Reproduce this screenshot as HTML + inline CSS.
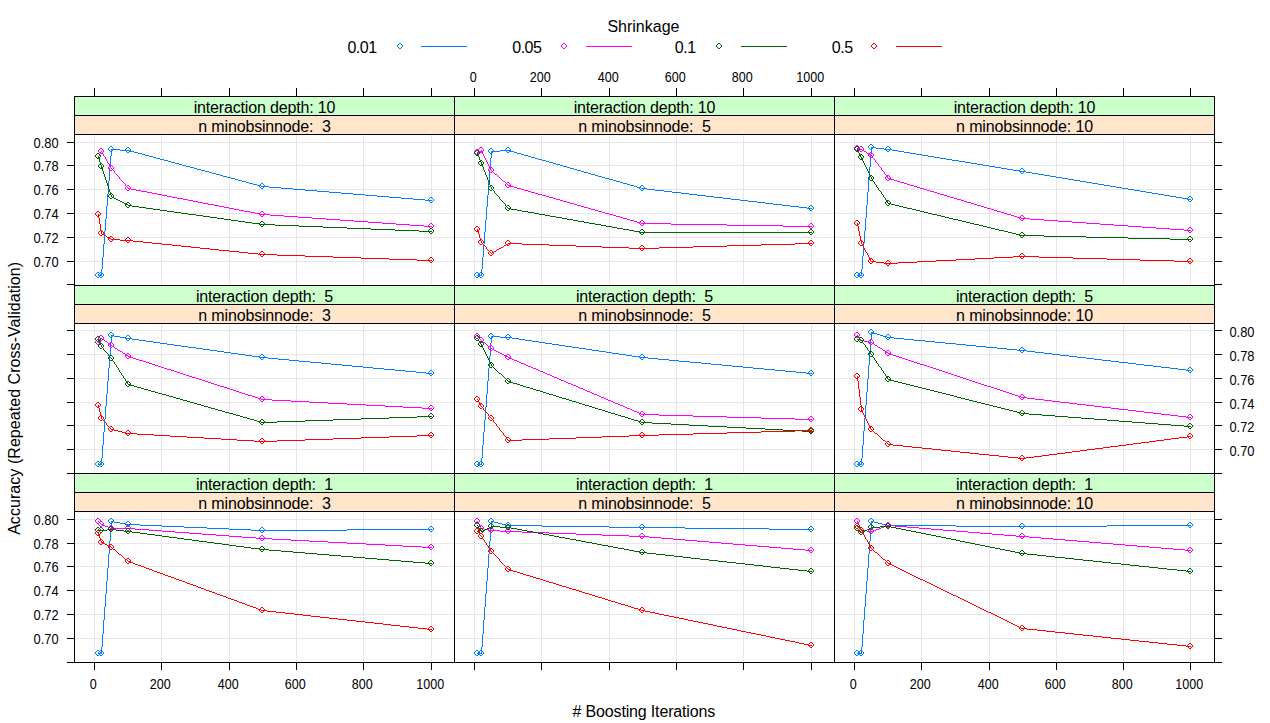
<!DOCTYPE html>
<html><head><meta charset="utf-8"><title>plot</title>
<style>
html,body{margin:0;padding:0;background:#fff;}
svg{display:block;font-family:"Liberation Sans",sans-serif;fill:#000;}
.ax{font-size:13.8px;}
.t{font-size:16px;}
.s{font-size:16px;letter-spacing:-0.16px;}
.k{stroke:#000;stroke-width:1;fill:none;shape-rendering:crispEdges;}
.gr{stroke:#e6e6e6;stroke-width:1;fill:none;shape-rendering:crispEdges;}
.ln{fill:none;stroke-width:1;shape-rendering:crispEdges;}
.c{shape-rendering:crispEdges;stroke:none;}
</style></head><body>
<svg width="1270" height="723" viewBox="0 0 1270 723">
<defs><path id="o" d="M-1-3h2v1h-2zM-2-2h1v1h-1zM1-2h1v1h-1zM-3-1h1v2h-1zM2-1h1v2h-1zM-2 1h1v1h-1zM1 1h1v1h-1zM-1 2h2v1h-2z"/></defs>
<rect x="0" y="0" width="1270" height="723" fill="#fff"/>
<text class="t" x="643.4" y="31.6" text-anchor="middle">Shrinkage</text>
<text class="t" x="376.6" y="53.1" text-anchor="end" style="letter-spacing:-0.5px">0.01</text>
<use class="c" href="#o" x="400" y="46" fill="#0080ff"/>
<line x1="421" y1="46.5" x2="467" y2="46.5" stroke="#0080ff" stroke-width="1" shape-rendering="crispEdges"/>
<text class="t" x="541.4" y="53.1" text-anchor="end" style="letter-spacing:-0.5px">0.05</text>
<use class="c" href="#o" x="564" y="46" fill="#ff00ff"/>
<line x1="586" y1="46.5" x2="632" y2="46.5" stroke="#ff00ff" stroke-width="1" shape-rendering="crispEdges"/>
<text class="t" x="695.6" y="53.1" text-anchor="end" style="letter-spacing:-0.5px">0.1</text>
<use class="c" href="#o" x="719" y="46" fill="#006400"/>
<line x1="741" y1="46.5" x2="787" y2="46.5" stroke="#006400" stroke-width="1" shape-rendering="crispEdges"/>
<text class="t" x="852.6" y="53.1" text-anchor="end" style="letter-spacing:-0.5px">0.5</text>
<use class="c" href="#o" x="874" y="46" fill="#ff0000"/>
<line x1="896" y1="46.5" x2="942" y2="46.5" stroke="#ff0000" stroke-width="1" shape-rendering="crispEdges"/>
<rect x="74.5" y="96.5" width="1140.0" height="19.0" fill="#ccffcc"/>
<rect x="74.5" y="115.5" width="1140.0" height="19.0" fill="#ffe5cc"/>
<rect x="74.5" y="285.5" width="1140.0" height="19.0" fill="#ccffcc"/>
<rect x="74.5" y="304.5" width="1140.0" height="19.0" fill="#ffe5cc"/>
<rect x="74.5" y="473.5" width="1140.0" height="19.0" fill="#ccffcc"/>
<rect x="74.5" y="492.5" width="1140.0" height="19.0" fill="#ffe5cc"/>
<path class="gr" d="M74.5 142.5H454.5M74.5 165.5H454.5M74.5 189.5H454.5M74.5 213.5H454.5M74.5 237.5H454.5M74.5 261.5H454.5M94.5 134.5V285.5M161.5 134.5V285.5M229.5 134.5V285.5M296.5 134.5V285.5M363.5 134.5V285.5M431.5 134.5V285.5"/>
<path class="gr" d="M454.5 142.5H834.5M454.5 165.5H834.5M454.5 189.5H834.5M454.5 213.5H834.5M454.5 237.5H834.5M454.5 261.5H834.5M474.5 134.5V285.5M541.5 134.5V285.5M609.5 134.5V285.5M676.5 134.5V285.5M743.5 134.5V285.5M811.5 134.5V285.5"/>
<path class="gr" d="M834.5 142.5H1214.5M834.5 165.5H1214.5M834.5 189.5H1214.5M834.5 213.5H1214.5M834.5 237.5H1214.5M834.5 261.5H1214.5M854.5 134.5V285.5M921.5 134.5V285.5M989.5 134.5V285.5M1056.5 134.5V285.5M1123.5 134.5V285.5M1190.5 134.5V285.5"/>
<path class="gr" d="M74.5 330.5H454.5M74.5 354.5H454.5M74.5 378.5H454.5M74.5 402.5H454.5M74.5 425.5H454.5M74.5 449.5H454.5M94.5 323.5V473.5M161.5 323.5V473.5M229.5 323.5V473.5M296.5 323.5V473.5M363.5 323.5V473.5M431.5 323.5V473.5"/>
<path class="gr" d="M454.5 330.5H834.5M454.5 354.5H834.5M454.5 378.5H834.5M454.5 402.5H834.5M454.5 425.5H834.5M454.5 449.5H834.5M474.5 323.5V473.5M541.5 323.5V473.5M609.5 323.5V473.5M676.5 323.5V473.5M743.5 323.5V473.5M811.5 323.5V473.5"/>
<path class="gr" d="M834.5 330.5H1214.5M834.5 354.5H1214.5M834.5 378.5H1214.5M834.5 402.5H1214.5M834.5 425.5H1214.5M834.5 449.5H1214.5M854.5 323.5V473.5M921.5 323.5V473.5M989.5 323.5V473.5M1056.5 323.5V473.5M1123.5 323.5V473.5M1190.5 323.5V473.5"/>
<path class="gr" d="M74.5 519.5H454.5M74.5 543.5H454.5M74.5 566.5H454.5M74.5 590.5H454.5M74.5 614.5H454.5M74.5 638.5H454.5M94.5 511.5V662.5M161.5 511.5V662.5M229.5 511.5V662.5M296.5 511.5V662.5M363.5 511.5V662.5M431.5 511.5V662.5"/>
<path class="gr" d="M454.5 519.5H834.5M454.5 543.5H834.5M454.5 566.5H834.5M454.5 590.5H834.5M454.5 614.5H834.5M454.5 638.5H834.5M474.5 511.5V662.5M541.5 511.5V662.5M609.5 511.5V662.5M676.5 511.5V662.5M743.5 511.5V662.5M811.5 511.5V662.5"/>
<path class="gr" d="M834.5 519.5H1214.5M834.5 543.5H1214.5M834.5 566.5H1214.5M834.5 590.5H1214.5M834.5 614.5H1214.5M834.5 638.5H1214.5M854.5 511.5V662.5M921.5 511.5V662.5M989.5 511.5V662.5M1056.5 511.5V662.5M1123.5 511.5V662.5M1190.5 511.5V662.5"/>
<g fill="#0080ff"><path class="c" d="M98 275h4v1h-4zM389 197h12v1h-12zM216 174h4v1h-4zM413 199h12v1h-12zM257 185h4v1h-4zM329 192h12v1h-12zM353 194h12v1h-12zM194 168h3v1h-3zM227 177h4v1h-4zM425 200h7v1h-7zM130 151h4v1h-4zM341 193h12v1h-12zM160 159h4v1h-4zM171 162h4v1h-4zM377 196h12v1h-12zM249 183h4v1h-4zM111 149h9v1h-9zM293 189h12v1h-12zM201 170h4v1h-4zM209 172h3v1h-3zM120 150h10v1h-10zM269 187h12v1h-12zM242 181h4v1h-4zM156 158h4v1h-4zM281 188h12v1h-12zM305 190h12v1h-12zM138 153h4v1h-4zM401 198h12v1h-12zM253 184h4v1h-4zM197 169h4v1h-4zM317 191h12v1h-12zM261 186h8v1h-8zM179 164h3v1h-3zM153 157h3v1h-3zM365 195h12v1h-12zM134 152h4v1h-4zM182 165h4v1h-4zM164 160h4v1h-4zM223 176h4v1h-4zM205 171h4v1h-4zM142 154h3v1h-3zM235 179h3v1h-3zM190 167h4v1h-4zM231 178h4v1h-4zM145 155h4v1h-4zM212 173h4v1h-4zM186 166h4v1h-4zM149 156h4v1h-4zM168 161h3v1h-3zM238 180h4v1h-4zM175 163h4v1h-4zM246 182h3v1h-3zM220 175h3v1h-3zM107 194h1v12h-1zM109 168h1v13h-1zM108 181h1v13h-1zM104 231h1v13h-1zM102 257h1v12h-1zM103 244h1v13h-1zM111 150h1v6h-1zM110 156h1v12h-1zM101 269h1v6h-1zM106 206h1v13h-1zM105 219h1v12h-1z"/><use class="c" href="#o" x="98" y="275"/><use class="c" href="#o" x="101" y="275"/><use class="c" href="#o" x="111" y="149"/><use class="c" href="#o" x="128" y="150"/><use class="c" href="#o" x="262" y="186"/><use class="c" href="#o" x="431" y="200"/></g>
<g fill="#ff00ff"><path class="c" d="M284 216h14v1h-14zM312 218h14v1h-14zM298 217h14v1h-14zM326 219h14v1h-14zM136 190h5v1h-5zM219 206h5v1h-5zM260 214h10v1h-10zM172 197h5v1h-5zM382 223h14v1h-14zM152 193h5v1h-5zM255 213h5v1h-5zM270 215h14v1h-14zM234 209h5v1h-5zM203 203h5v1h-5zM188 200h5v1h-5zM157 194h5v1h-5zM340 220h14v1h-14zM368 222h14v1h-14zM396 224h14v1h-14zM424 226h8v1h-8zM208 204h6v1h-6zM239 210h5v1h-5zM410 225h14v1h-14zM141 191h6v1h-6zM244 211h6v1h-6zM224 207h5v1h-5zM193 201h5v1h-5zM198 202h5v1h-5zM177 198h6v1h-6zM162 195h5v1h-5zM354 221h14v1h-14zM250 212h5v1h-5zM128 188h3v1h-3zM229 208h5v1h-5zM183 199h5v1h-5zM131 189h5v1h-5zM214 205h5v1h-5zM167 196h5v1h-5zM147 192h5v1h-5zM105 157h1v2h-1zM123 182h1v1h-1zM124 183h1v1h-1zM115 173h1v1h-1zM116 174h1v1h-1zM126 186h1v1h-1zM100 152h1v2h-1zM102 152h1v2h-1zM119 177h1v2h-1zM125 184h1v2h-1zM99 154h1v2h-1zM103 154h1v2h-1zM118 176h1v1h-1zM107 161h1v2h-1zM110 166h1v2h-1zM106 159h1v2h-1zM117 175h1v1h-1zM127 187h1v1h-1zM98 156h1v1h-1zM104 156h1v1h-1zM120 179h1v1h-1zM109 164h1v2h-1zM101 151h1v1h-1zM108 163h1v1h-1zM111 168h1v1h-1zM112 169h1v1h-1zM122 181h1v1h-1zM114 171h1v2h-1zM121 180h1v1h-1zM113 170h1v1h-1z"/><use class="c" href="#o" x="98" y="156"/><use class="c" href="#o" x="101" y="151"/><use class="c" href="#o" x="111" y="168"/><use class="c" href="#o" x="128" y="188"/><use class="c" href="#o" x="262" y="214"/><use class="c" href="#o" x="431" y="226"/></g>
<g fill="#006400"><path class="c" d="M224 219h7v1h-7zM181 213h7v1h-7zM275 225h24v1h-24zM323 227h24v1h-24zM217 218h7v1h-7zM347 228h24v1h-24zM188 214h8v1h-8zM299 226h24v1h-24zM371 229h24v1h-24zM238 221h7v1h-7zM132 206h7v1h-7zM245 222h7v1h-7zM259 224h16v1h-16zM419 231h13v1h-13zM146 208h7v1h-7zM203 216h7v1h-7zM160 210h7v1h-7zM174 212h7v1h-7zM395 230h24v1h-24zM231 220h7v1h-7zM153 209h7v1h-7zM167 211h7v1h-7zM126 204h2v1h-2zM118 200h2v1h-2zM139 207h7v1h-7zM122 202h2v1h-2zM114 198h2v1h-2zM252 223h7v1h-7zM210 217h7v1h-7zM124 203h2v1h-2zM128 205h4v1h-4zM120 201h2v1h-2zM112 197h2v1h-2zM116 199h2v1h-2zM196 215h7v1h-7zM101 165h1v3h-1zM105 177h1v3h-1zM98 156h1v2h-1zM106 180h1v3h-1zM99 158h1v4h-1zM109 189h1v3h-1zM102 168h1v3h-1zM108 186h1v3h-1zM104 174h1v3h-1zM111 195h1v2h-1zM107 183h1v3h-1zM100 162h1v3h-1zM110 192h1v3h-1zM103 171h1v3h-1z"/><use class="c" href="#o" x="98" y="156"/><use class="c" href="#o" x="101" y="166"/><use class="c" href="#o" x="111" y="196"/><use class="c" href="#o" x="128" y="205"/><use class="c" href="#o" x="262" y="224"/><use class="c" href="#o" x="431" y="231"/></g>
<g fill="#ff0000"><path class="c" d="M389 259h28v1h-28zM361 258h28v1h-28zM219 250h10v1h-10zM152 243h10v1h-10zM172 245h9v1h-9zM162 244h10v1h-10zM277 255h28v1h-28zM181 246h10v1h-10zM200 248h10v1h-10zM333 257h28v1h-28zM258 254h19v1h-19zM191 247h9v1h-9zM210 249h9v1h-9zM133 241h10v1h-10zM229 251h10v1h-10zM120 240h13v1h-13zM417 260h15v1h-15zM305 256h28v1h-28zM143 242h9v1h-9zM239 252h9v1h-9zM109 238h2v1h-2zM102 234h2v1h-2zM111 239h9v1h-9zM104 235h2v1h-2zM248 253h10v1h-10zM107 237h2v1h-2zM99 218h1v6h-1zM100 224h1v6h-1zM106 236h1v1h-1zM101 230h1v4h-1zM98 214h1v4h-1z"/><use class="c" href="#o" x="98" y="214"/><use class="c" href="#o" x="101" y="233"/><use class="c" href="#o" x="111" y="239"/><use class="c" href="#o" x="128" y="240"/><use class="c" href="#o" x="262" y="254"/><use class="c" href="#o" x="431" y="260"/></g>
<g fill="#0080ff"><path class="c" d="M799 207h8v1h-8zM706 196h8v1h-8zM655 190h9v1h-9zM500 150h10v1h-10zM664 191h8v1h-8zM731 199h9v1h-9zM524 155h4v1h-4zM620 182h3v1h-3zM591 174h4v1h-4zM553 163h3v1h-3zM574 169h3v1h-3zM627 184h3v1h-3zM748 201h9v1h-9zM556 164h4v1h-4zM807 208h5v1h-5zM773 204h9v1h-9zM528 156h3v1h-3zM630 185h4v1h-4zM765 203h8v1h-8zM531 157h4v1h-4zM634 186h3v1h-3zM491 151h9v1h-9zM510 151h4v1h-4zM605 178h4v1h-4zM689 194h8v1h-8zM790 206h9v1h-9zM697 195h9v1h-9zM477 275h5v1h-5zM577 170h4v1h-4zM757 202h8v1h-8zM723 198h8v1h-8zM560 165h3v1h-3zM714 197h9v1h-9zM581 171h3v1h-3zM782 205h8v1h-8zM588 173h3v1h-3zM535 158h3v1h-3zM740 200h8v1h-8zM647 189h8v1h-8zM538 159h4v1h-4zM613 180h3v1h-3zM672 192h9v1h-9zM584 172h4v1h-4zM514 152h3v1h-3zM563 166h4v1h-4zM542 160h4v1h-4zM637 187h4v1h-4zM517 153h4v1h-4zM567 167h3v1h-3zM623 183h4v1h-4zM616 181h4v1h-4zM681 193h8v1h-8zM598 176h4v1h-4zM570 168h4v1h-4zM546 161h3v1h-3zM641 188h6v1h-6zM521 154h3v1h-3zM595 175h3v1h-3zM549 162h4v1h-4zM602 177h3v1h-3zM609 179h4v1h-4zM486 207h1v13h-1zM487 195h1v12h-1zM488 182h1v13h-1zM483 244h1v13h-1zM491 152h1v6h-1zM484 232h1v12h-1zM489 170h1v12h-1zM490 158h1v12h-1zM482 257h1v12h-1zM481 269h1v6h-1zM485 220h1v12h-1z"/><use class="c" href="#o" x="477" y="275"/><use class="c" href="#o" x="481" y="275"/><use class="c" href="#o" x="491" y="151"/><use class="c" href="#o" x="508" y="150"/><use class="c" href="#o" x="642" y="188"/><use class="c" href="#o" x="811" y="208"/></g>
<g fill="#ff00ff"><path class="c" d="M727 225h56v1h-56zM521 189h3v1h-3zM542 195h4v1h-4zM546 196h3v1h-3zM671 224h56v1h-56zM620 217h3v1h-3zM641 223h30v1h-30zM479 151h3v1h-3zM574 204h3v1h-3zM623 218h4v1h-4zM477 152h2v1h-2zM783 226h29v1h-29zM627 219h3v1h-3zM570 203h4v1h-4zM549 197h4v1h-4zM553 198h3v1h-3zM524 190h4v1h-4zM598 211h4v1h-4zM528 191h3v1h-3zM581 206h3v1h-3zM556 199h4v1h-4zM605 213h4v1h-4zM634 221h3v1h-3zM577 205h4v1h-4zM531 192h4v1h-4zM495 174h2v1h-2zM535 193h3v1h-3zM630 220h4v1h-4zM609 214h4v1h-4zM510 186h4v1h-4zM563 201h4v1h-4zM584 207h4v1h-4zM538 194h4v1h-4zM560 200h3v1h-3zM613 215h3v1h-3zM514 187h3v1h-3zM588 208h3v1h-3zM637 222h4v1h-4zM517 188h4v1h-4zM591 209h4v1h-4zM567 202h3v1h-3zM595 210h3v1h-3zM616 216h4v1h-4zM602 212h3v1h-3zM508 185h2v1h-2zM503 181h2v1h-2zM485 158h1v2h-1zM482 152h1v2h-1zM499 177h1v1h-1zM500 178h1v1h-1zM481 150h1v1h-1zM484 156h1v2h-1zM506 183h1v1h-1zM502 180h1v1h-1zM505 182h1v1h-1zM490 168h1v2h-1zM501 179h1v1h-1zM507 184h1v1h-1zM486 160h1v2h-1zM489 166h1v2h-1zM488 164h1v2h-1zM492 171h1v1h-1zM491 170h1v1h-1zM487 162h1v2h-1zM498 176h1v1h-1zM483 154h1v2h-1zM494 173h1v1h-1zM497 175h1v1h-1zM493 172h1v1h-1z"/><use class="c" href="#o" x="477" y="152"/><use class="c" href="#o" x="481" y="150"/><use class="c" href="#o" x="491" y="170"/><use class="c" href="#o" x="508" y="185"/><use class="c" href="#o" x="642" y="223"/><use class="c" href="#o" x="811" y="226"/></g>
<g fill="#006400"><path class="c" d="M640 232h172v1h-172zM550 216h6v1h-6zM562 218h5v1h-5zM528 212h6v1h-6zM595 224h6v1h-6zM534 213h5v1h-5zM623 229h6v1h-6zM567 219h6v1h-6zM601 225h5v1h-5zM539 214h6v1h-6zM517 210h5v1h-5zM522 211h6v1h-6zM612 227h5v1h-5zM584 222h5v1h-5zM629 230h5v1h-5zM589 223h6v1h-6zM556 217h6v1h-6zM508 208h3v1h-3zM634 231h6v1h-6zM573 220h5v1h-5zM511 209h6v1h-6zM617 228h6v1h-6zM606 226h6v1h-6zM578 221h6v1h-6zM545 215h5v1h-5zM485 172h1v3h-1zM482 165h1v2h-1zM489 182h1v3h-1zM503 202h1v1h-1zM481 162h1v3h-1zM495 193h1v1h-1zM488 180h1v2h-1zM496 194h1v1h-1zM477 153h1v2h-1zM484 170h1v2h-1zM506 206h1v1h-1zM494 191h1v2h-1zM487 177h1v3h-1zM483 167h1v3h-1zM505 204h1v2h-1zM498 196h1v1h-1zM504 203h1v1h-1zM497 195h1v1h-1zM486 175h1v2h-1zM479 157h1v3h-1zM507 207h1v1h-1zM499 197h1v2h-1zM500 199h1v1h-1zM480 160h1v2h-1zM491 187h1v2h-1zM502 201h1v1h-1zM490 185h1v2h-1zM501 200h1v1h-1zM478 155h1v2h-1zM492 189h1v1h-1zM493 190h1v1h-1z"/><use class="c" href="#o" x="477" y="153"/><use class="c" href="#o" x="481" y="163"/><use class="c" href="#o" x="491" y="188"/><use class="c" href="#o" x="508" y="208"/><use class="c" href="#o" x="642" y="232"/><use class="c" href="#o" x="811" y="232"/></g>
<g fill="#ff0000"><path class="c" d="M501 247h2v1h-2zM602 247h27v1h-27zM659 247h34v1h-34zM504 245h2v1h-2zM549 245h27v1h-27zM727 245h34v1h-34zM508 243h14v1h-14zM795 243h17v1h-17zM576 246h26v1h-26zM693 246h34v1h-34zM499 248h2v1h-2zM629 248h30v1h-30zM506 244h2v1h-2zM522 244h27v1h-27zM761 244h34v1h-34zM497 249h2v1h-2zM494 251h2v1h-2zM492 252h2v1h-2zM486 247h1v2h-1zM484 245h1v1h-1zM482 243h1v1h-1zM485 246h1v1h-1zM503 246h1v1h-1zM483 244h1v1h-1zM479 234h1v4h-1zM487 249h1v1h-1zM489 251h1v1h-1zM478 231h1v3h-1zM488 250h1v1h-1zM496 250h1v1h-1zM490 252h1v1h-1zM481 241h1v2h-1zM477 229h1v2h-1zM480 238h1v3h-1zM491 253h1v1h-1z"/><use class="c" href="#o" x="477" y="229"/><use class="c" href="#o" x="481" y="242"/><use class="c" href="#o" x="491" y="253"/><use class="c" href="#o" x="508" y="243"/><use class="c" href="#o" x="642" y="248"/><use class="c" href="#o" x="811" y="243"/></g>
<g fill="#0080ff"><path class="c" d="M983 165h6v1h-6zM959 161h6v1h-6zM1056 177h6v1h-6zM952 160h7v1h-7zM965 162h6v1h-6zM1026 172h6v1h-6zM1038 174h6v1h-6zM1134 190h6v1h-6zM1110 186h6v1h-6zM1007 169h6v1h-6zM1104 185h6v1h-6zM1080 181h6v1h-6zM1176 197h6v1h-6zM1044 175h6v1h-6zM1074 180h6v1h-6zM1086 182h6v1h-6zM1050 176h6v1h-6zM1158 194h6v1h-6zM1122 188h6v1h-6zM1128 189h6v1h-6zM892 150h6v1h-6zM1164 195h6v1h-6zM1001 168h6v1h-6zM977 164h6v1h-6zM971 163h6v1h-6zM1013 170h6v1h-6zM940 158h6v1h-6zM1092 183h6v1h-6zM1098 184h6v1h-6zM995 167h6v1h-6zM1068 179h6v1h-6zM1062 178h6v1h-6zM898 151h6v1h-6zM1146 192h6v1h-6zM1116 187h6v1h-6zM876 148h8v1h-8zM1152 193h6v1h-6zM989 166h6v1h-6zM857 275h5v1h-5zM922 155h6v1h-6zM1182 198h6v1h-6zM884 149h8v1h-8zM1019 171h7v1h-7zM1032 173h6v1h-6zM928 156h6v1h-6zM1188 199h3v1h-3zM1140 191h6v1h-6zM910 153h6v1h-6zM1170 196h6v1h-6zM871 147h5v1h-5zM946 159h6v1h-6zM916 154h6v1h-6zM934 157h6v1h-6zM904 152h6v1h-6zM870 154h1v13h-1zM869 167h1v12h-1zM868 179h1v13h-1zM867 192h1v13h-1zM862 256h1v13h-1zM863 243h1v13h-1zM871 148h1v6h-1zM866 205h1v13h-1zM861 269h1v6h-1zM865 218h1v13h-1zM864 231h1v12h-1z"/><use class="c" href="#o" x="857" y="275"/><use class="c" href="#o" x="861" y="275"/><use class="c" href="#o" x="871" y="147"/><use class="c" href="#o" x="888" y="149"/><use class="c" href="#o" x="1022" y="171"/><use class="c" href="#o" x="1190" y="199"/></g>
<g fill="#ff00ff"><path class="c" d="M1072 222h14v1h-14zM1100 224h14v1h-14zM930 191h4v1h-4zM1086 223h14v1h-14zM1014 216h3v1h-3zM1114 225h14v1h-14zM987 208h4v1h-4zM1044 220h14v1h-14zM1030 219h14v1h-14zM1058 221h14v1h-14zM910 185h4v1h-4zM1184 230h7v1h-7zM961 200h3v1h-3zM984 207h3v1h-3zM964 201h3v1h-3zM967 202h4v1h-4zM904 183h3v1h-3zM940 194h4v1h-4zM1156 228h14v1h-14zM914 186h3v1h-3zM1170 229h14v1h-14zM934 192h3v1h-3zM1017 217h4v1h-4zM1128 226h14v1h-14zM917 187h3v1h-3zM1142 227h14v1h-14zM890 179h4v1h-4zM991 209h3v1h-3zM974 204h3v1h-3zM947 196h3v1h-3zM994 210h3v1h-3zM950 197h4v1h-4zM924 189h3v1h-3zM897 181h3v1h-3zM997 211h4v1h-4zM971 203h3v1h-3zM954 198h3v1h-3zM1001 212h3v1h-3zM894 180h3v1h-3zM977 205h4v1h-4zM957 199h4v1h-4zM920 188h4v1h-4zM1004 213h3v1h-3zM1021 218h9v1h-9zM1007 214h4v1h-4zM927 190h3v1h-3zM981 206h3v1h-3zM900 182h4v1h-4zM864 151h2v1h-2zM857 148h3v1h-3zM1011 215h3v1h-3zM867 153h2v1h-2zM860 149h2v1h-2zM862 150h2v1h-2zM907 184h3v1h-3zM937 193h3v1h-3zM888 178h2v1h-2zM944 195h3v1h-3zM869 154h2v1h-2zM884 172h1v2h-1zM883 171h1v1h-1zM872 156h1v2h-1zM887 176h1v2h-1zM871 155h1v1h-1zM886 175h1v1h-1zM875 160h1v2h-1zM885 174h1v1h-1zM874 159h1v1h-1zM878 164h1v2h-1zM873 158h1v1h-1zM876 162h1v1h-1zM877 163h1v1h-1zM879 166h1v1h-1zM880 167h1v1h-1zM882 170h1v1h-1zM881 168h1v2h-1zM866 152h1v1h-1z"/><use class="c" href="#o" x="857" y="148"/><use class="c" href="#o" x="861" y="149"/><use class="c" href="#o" x="871" y="155"/><use class="c" href="#o" x="888" y="178"/><use class="c" href="#o" x="1022" y="218"/><use class="c" href="#o" x="1190" y="230"/></g>
<g fill="#006400"><path class="c" d="M1086 237h42v1h-42zM907 208h5v1h-5zM949 218h4v1h-4zM1020 235h24v1h-24zM1044 236h42v1h-42zM1170 239h21v1h-21zM912 209h4v1h-4zM1008 232h4v1h-4zM970 223h4v1h-4zM1128 238h42v1h-42zM991 228h4v1h-4zM932 214h5v1h-5zM953 219h5v1h-5zM995 229h4v1h-4zM895 205h4v1h-4zM916 210h4v1h-4zM958 220h4v1h-4zM920 211h4v1h-4zM1016 234h4v1h-4zM891 204h4v1h-4zM979 225h4v1h-4zM999 230h5v1h-5zM941 216h4v1h-4zM962 221h4v1h-4zM1012 233h4v1h-4zM903 207h4v1h-4zM924 212h4v1h-4zM974 224h5v1h-5zM937 215h4v1h-4zM899 206h4v1h-4zM987 227h4v1h-4zM983 226h4v1h-4zM945 217h4v1h-4zM1004 231h4v1h-4zM966 222h4v1h-4zM928 213h4v1h-4zM888 203h3v1h-3zM858 151h1v2h-1zM887 201h1v2h-1zM861 157h1v2h-1zM857 149h1v2h-1zM872 179h1v2h-1zM871 177h1v2h-1zM885 198h1v2h-1zM860 155h1v2h-1zM874 182h1v2h-1zM875 184h1v1h-1zM878 188h1v2h-1zM868 171h1v2h-1zM859 153h1v2h-1zM870 175h1v2h-1zM867 169h1v2h-1zM873 181h1v1h-1zM866 167h1v2h-1zM876 185h1v2h-1zM869 173h1v2h-1zM877 187h1v1h-1zM862 159h1v2h-1zM879 190h1v1h-1zM880 191h1v1h-1zM883 195h1v2h-1zM865 165h1v2h-1zM864 163h1v2h-1zM882 194h1v1h-1zM886 200h1v1h-1zM881 192h1v2h-1zM863 161h1v2h-1zM884 197h1v1h-1z"/><use class="c" href="#o" x="857" y="149"/><use class="c" href="#o" x="861" y="157"/><use class="c" href="#o" x="871" y="178"/><use class="c" href="#o" x="888" y="203"/><use class="c" href="#o" x="1022" y="235"/><use class="c" href="#o" x="1190" y="239"/></g>
<g fill="#ff0000"><path class="c" d="M936 260h20v1h-20zM1140 260h34v1h-34zM876 262h8v1h-8zM898 262h19v1h-19zM871 261h5v1h-5zM917 261h19v1h-19zM1174 261h17v1h-17zM1013 256h26v1h-26zM994 257h19v1h-19zM1039 257h34v1h-34zM975 258h19v1h-19zM1073 258h34v1h-34zM884 263h14v1h-14zM956 259h19v1h-19zM1107 259h33v1h-33zM870 259h1v2h-1zM868 255h1v2h-1zM869 257h1v2h-1zM859 231h1v5h-1zM858 226h1v5h-1zM865 250h1v2h-1zM857 223h1v3h-1zM864 248h1v2h-1zM861 241h1v3h-1zM860 236h1v5h-1zM867 253h1v2h-1zM863 246h1v2h-1zM866 252h1v1h-1zM862 244h1v2h-1z"/><use class="c" href="#o" x="857" y="223"/><use class="c" href="#o" x="861" y="243"/><use class="c" href="#o" x="871" y="261"/><use class="c" href="#o" x="888" y="263"/><use class="c" href="#o" x="1022" y="256"/><use class="c" href="#o" x="1190" y="261"/></g>
<g fill="#0080ff"><path class="c" d="M299 361h11v1h-11zM167 344h7v1h-7zM416 372h10v1h-10zM321 363h10v1h-10zM342 365h10v1h-10zM224 352h7v1h-7zM132 339h7v1h-7zM405 371h11v1h-11zM331 364h11v1h-11zM352 366h11v1h-11zM231 353h7v1h-7zM188 347h8v1h-8zM373 368h11v1h-11zM114 336h6v1h-6zM278 359h11v1h-11zM363 367h10v1h-10zM384 369h11v1h-11zM289 360h10v1h-10zM238 354h7v1h-7zM160 343h7v1h-7zM139 340h7v1h-7zM426 373h6v1h-6zM111 335h3v1h-3zM196 348h7v1h-7zM98 464h4v1h-4zM153 342h7v1h-7zM252 356h7v1h-7zM210 350h7v1h-7zM310 362h11v1h-11zM126 338h6v1h-6zM268 358h10v1h-10zM217 351h7v1h-7zM174 345h7v1h-7zM395 370h10v1h-10zM181 346h7v1h-7zM120 337h6v1h-6zM259 357h9v1h-9zM203 349h7v1h-7zM146 341h7v1h-7zM245 355h7v1h-7zM109 355h1v13h-1zM106 394h1v12h-1zM110 342h1v13h-1zM108 368h1v13h-1zM111 336h1v6h-1zM107 381h1v13h-1zM105 406h1v13h-1zM104 419h1v13h-1zM103 432h1v13h-1zM102 445h1v13h-1zM101 458h1v6h-1z"/><use class="c" href="#o" x="98" y="464"/><use class="c" href="#o" x="101" y="464"/><use class="c" href="#o" x="111" y="335"/><use class="c" href="#o" x="128" y="338"/><use class="c" href="#o" x="262" y="357"/><use class="c" href="#o" x="431" y="373"/></g>
<g fill="#ff00ff"><path class="c" d="M126 355h2v1h-2zM158 366h3v1h-3zM309 402h19v1h-19zM347 404h19v1h-19zM403 407h19v1h-19zM189 376h3v1h-3zM224 387h3v1h-3zM102 339h2v1h-2zM385 406h18v1h-18zM422 408h10v1h-10zM245 394h3v1h-3zM164 368h3v1h-3zM291 401h18v1h-18zM155 365h3v1h-3zM130 357h3v1h-3zM220 386h4v1h-4zM366 405h19v1h-19zM192 377h4v1h-4zM133 358h3v1h-3zM258 398h3v1h-3zM196 378h3v1h-3zM261 399h11v1h-11zM118 350h2v1h-2zM161 367h3v1h-3zM272 400h19v1h-19zM328 403h19v1h-19zM252 396h3v1h-3zM136 359h3v1h-3zM227 388h3v1h-3zM167 369h4v1h-4zM105 341h2v1h-2zM139 360h4v1h-4zM230 389h3v1h-3zM233 390h3v1h-3zM171 370h3v1h-3zM120 351h2v1h-2zM143 361h3v1h-3zM174 371h3v1h-3zM208 382h3v1h-3zM146 362h3v1h-3zM211 383h3v1h-3zM202 380h3v1h-3zM239 392h3v1h-3zM177 372h3v1h-3zM242 393h3v1h-3zM149 363h3v1h-3zM112 346h2v1h-2zM180 373h3v1h-3zM214 384h3v1h-3zM236 391h3v1h-3zM217 385h3v1h-3zM109 344h2v1h-2zM183 374h3v1h-3zM248 395h4v1h-4zM152 364h3v1h-3zM128 356h2v1h-2zM255 397h3v1h-3zM123 353h2v1h-2zM186 375h3v1h-3zM199 379h3v1h-3zM115 348h2v1h-2zM205 381h3v1h-3zM100 339h1v1h-1zM99 340h1v2h-1zM104 340h1v1h-1zM122 352h1v1h-1zM114 347h1v1h-1zM98 342h1v1h-1zM107 342h1v1h-1zM101 338h1v1h-1zM111 345h1v1h-1zM125 354h1v1h-1zM117 349h1v1h-1zM108 343h1v1h-1z"/><use class="c" href="#o" x="98" y="342"/><use class="c" href="#o" x="101" y="338"/><use class="c" href="#o" x="111" y="345"/><use class="c" href="#o" x="128" y="356"/><use class="c" href="#o" x="262" y="399"/><use class="c" href="#o" x="431" y="408"/></g>
<g fill="#006400"><path class="c" d="M225 412h4v1h-4zM240 416h3v1h-3zM417 416h15v1h-15zM254 420h3v1h-3zM305 420h28v1h-28zM180 399h3v1h-3zM257 421h4v1h-4zM277 421h28v1h-28zM229 413h4v1h-4zM243 417h4v1h-4zM389 417h28v1h-28zM250 419h4v1h-4zM333 419h28v1h-28zM137 387h4v1h-4zM158 393h4v1h-4zM261 422h16v1h-16zM233 414h3v1h-3zM247 418h3v1h-3zM361 418h28v1h-28zM215 409h3v1h-3zM130 385h4v1h-4zM134 386h3v1h-3zM187 401h3v1h-3zM162 394h4v1h-4zM211 408h4v1h-4zM144 389h4v1h-4zM166 395h3v1h-3zM183 400h4v1h-4zM222 411h3v1h-3zM141 388h3v1h-3zM236 415h4v1h-4zM169 396h4v1h-4zM218 410h4v1h-4zM190 402h4v1h-4zM151 391h4v1h-4zM173 397h3v1h-3zM194 403h3v1h-3zM176 398h4v1h-4zM197 404h4v1h-4zM148 390h3v1h-3zM201 405h3v1h-3zM204 406h4v1h-4zM155 392h3v1h-3zM208 407h3v1h-3zM128 384h2v1h-2zM118 368h1v2h-1zM119 370h1v2h-1zM100 343h1v2h-1zM114 362h1v2h-1zM122 375h1v1h-1zM103 348h1v2h-1zM99 341h1v2h-1zM121 373h1v2h-1zM125 379h1v2h-1zM106 352h1v1h-1zM117 367h1v1h-1zM120 372h1v1h-1zM98 339h1v2h-1zM116 365h1v2h-1zM124 378h1v1h-1zM127 382h1v2h-1zM105 351h1v1h-1zM123 376h1v2h-1zM108 354h1v2h-1zM126 381h1v1h-1zM107 353h1v1h-1zM110 357h1v1h-1zM109 356h1v1h-1zM101 345h1v2h-1zM102 347h1v1h-1zM113 361h1v1h-1zM112 359h1v2h-1zM111 358h1v1h-1zM115 364h1v1h-1zM104 350h1v1h-1z"/><use class="c" href="#o" x="98" y="339"/><use class="c" href="#o" x="101" y="346"/><use class="c" href="#o" x="111" y="358"/><use class="c" href="#o" x="128" y="384"/><use class="c" href="#o" x="262" y="422"/><use class="c" href="#o" x="431" y="416"/></g>
<g fill="#ff0000"><path class="c" d="M204 438h17v1h-17zM333 438h28v1h-28zM237 440h17v1h-17zM277 440h28v1h-28zM221 439h16v1h-16zM305 439h28v1h-28zM170 436h17v1h-17zM389 436h28v1h-28zM187 437h17v1h-17zM361 437h28v1h-28zM154 435h16v1h-16zM417 435h15v1h-15zM254 441h23v1h-23zM126 433h11v1h-11zM111 429h3v1h-3zM137 434h17v1h-17zM114 430h4v1h-4zM118 431h4v1h-4zM122 432h4v1h-4zM98 405h1v3h-1zM105 422h1v1h-1zM101 416h1v3h-1zM108 426h1v1h-1zM100 412h1v4h-1zM99 408h1v4h-1zM110 428h1v1h-1zM102 419h1v1h-1zM103 420h1v1h-1zM109 427h1v1h-1zM104 421h1v1h-1zM106 423h1v2h-1zM107 425h1v1h-1z"/><use class="c" href="#o" x="98" y="405"/><use class="c" href="#o" x="101" y="418"/><use class="c" href="#o" x="111" y="429"/><use class="c" href="#o" x="128" y="433"/><use class="c" href="#o" x="262" y="441"/><use class="c" href="#o" x="431" y="435"/></g>
<g fill="#0080ff"><path class="c" d="M626 355h6v1h-6zM586 349h6v1h-6zM592 350h7v1h-7zM648 358h10v1h-10zM669 360h10v1h-10zM658 359h11v1h-11zM679 361h11v1h-11zM539 342h6v1h-6zM552 344h7v1h-7zM512 338h7v1h-7zM545 343h7v1h-7zM500 337h12v1h-12zM690 362h11v1h-11zM599 351h7v1h-7zM559 345h6v1h-6zM477 464h5v1h-5zM701 363h10v1h-10zM565 346h7v1h-7zM525 340h7v1h-7zM732 366h11v1h-11zM612 353h7v1h-7zM491 336h9v1h-9zM764 369h11v1h-11zM775 370h10v1h-10zM796 372h10v1h-10zM639 357h9v1h-9zM606 352h6v1h-6zM532 341h7v1h-7zM743 367h10v1h-10zM572 347h7v1h-7zM619 354h7v1h-7zM632 356h7v1h-7zM711 364h11v1h-11zM722 365h10v1h-10zM519 339h6v1h-6zM753 368h11v1h-11zM785 371h11v1h-11zM806 373h6v1h-6zM579 348h7v1h-7zM490 343h1v13h-1zM485 407h1v13h-1zM489 356h1v12h-1zM486 394h1v13h-1zM491 337h1v6h-1zM488 368h1v13h-1zM484 420h1v12h-1zM483 432h1v13h-1zM487 381h1v13h-1zM482 445h1v13h-1zM481 458h1v6h-1z"/><use class="c" href="#o" x="477" y="464"/><use class="c" href="#o" x="481" y="464"/><use class="c" href="#o" x="491" y="336"/><use class="c" href="#o" x="508" y="337"/><use class="c" href="#o" x="642" y="357"/><use class="c" href="#o" x="811" y="373"/></g>
<g fill="#ff00ff"><path class="c" d="M597 395h2v1h-2zM659 415h34v1h-34zM761 418h34v1h-34zM587 391h3v1h-3zM506 356h2v1h-2zM641 414h18v1h-18zM599 396h2v1h-2zM592 393h2v1h-2zM623 406h2v1h-2zM502 354h2v1h-2zM727 417h34v1h-34zM494 350h2v1h-2zM795 419h17v1h-17zM483 342h2v1h-2zM693 416h34v1h-34zM528 366h3v1h-3zM519 362h2v1h-2zM618 404h2v1h-2zM634 411h3v1h-3zM498 352h2v1h-2zM521 363h3v1h-3zM512 359h2v1h-2zM514 360h3v1h-3zM637 412h2v1h-2zM627 408h3v1h-3zM630 409h2v1h-2zM620 405h3v1h-3zM517 361h2v1h-2zM508 357h2v1h-2zM510 358h2v1h-2zM540 371h3v1h-3zM632 410h2v1h-2zM531 367h2v1h-2zM625 407h2v1h-2zM536 369h2v1h-2zM561 380h3v1h-3zM554 377h3v1h-3zM547 374h3v1h-3zM538 370h2v1h-2zM550 375h2v1h-2zM543 372h2v1h-2zM573 385h3v1h-3zM533 368h3v1h-3zM564 381h2v1h-2zM568 383h3v1h-3zM545 373h2v1h-2zM594 394h3v1h-3zM580 388h3v1h-3zM583 389h2v1h-2zM576 386h2v1h-2zM601 397h3v1h-3zM578 387h2v1h-2zM571 384h2v1h-2zM613 402h2v1h-2zM590 392h2v1h-2zM615 403h3v1h-3zM608 400h3v1h-3zM611 401h2v1h-2zM604 398h2v1h-2zM500 353h2v1h-2zM492 349h2v1h-2zM524 364h2v1h-2zM526 365h2v1h-2zM496 351h2v1h-2zM552 376h2v1h-2zM566 382h2v1h-2zM557 378h2v1h-2zM559 379h2v1h-2zM488 346h2v1h-2zM606 399h2v1h-2zM504 355h2v1h-2zM639 413h2v1h-2zM585 390h2v1h-2zM480 339h1v1h-1zM479 338h1v1h-1zM490 347h1v1h-1zM491 348h1v1h-1zM486 344h1v1h-1zM485 343h1v1h-1zM481 340h1v1h-1zM482 341h1v1h-1zM487 345h1v1h-1zM477 336h1v1h-1zM478 337h1v1h-1z"/><use class="c" href="#o" x="477" y="336"/><use class="c" href="#o" x="481" y="340"/><use class="c" href="#o" x="491" y="348"/><use class="c" href="#o" x="508" y="357"/><use class="c" href="#o" x="642" y="414"/><use class="c" href="#o" x="811" y="419"/></g>
<g fill="#006400"><path class="c" d="M641 422h11v1h-11zM628 418h3v1h-3zM536 390h4v1h-4zM708 426h19v1h-19zM520 385h3v1h-3zM727 427h19v1h-19zM783 430h19v1h-19zM602 410h3v1h-3zM765 429h18v1h-18zM543 392h3v1h-3zM652 423h19v1h-19zM625 417h3v1h-3zM576 402h3v1h-3zM513 383h4v1h-4zM671 424h18v1h-18zM517 384h3v1h-3zM598 409h4v1h-4zM689 425h19v1h-19zM746 428h19v1h-19zM546 393h3v1h-3zM549 394h4v1h-4zM631 419h3v1h-3zM605 411h3v1h-3zM523 386h3v1h-3zM802 431h10v1h-10zM579 403h3v1h-3zM526 387h4v1h-4zM553 395h3v1h-3zM608 412h3v1h-3zM556 396h3v1h-3zM530 388h3v1h-3zM638 421h3v1h-3zM611 413h4v1h-4zM585 405h4v1h-4zM589 406h3v1h-3zM559 397h3v1h-3zM618 415h3v1h-3zM621 416h4v1h-4zM499 373h2v1h-2zM510 382h3v1h-3zM592 407h3v1h-3zM533 389h3v1h-3zM615 414h3v1h-3zM508 381h2v1h-2zM562 398h4v1h-4zM566 399h3v1h-3zM540 391h3v1h-3zM595 408h3v1h-3zM634 420h4v1h-4zM569 400h3v1h-3zM572 401h4v1h-4zM582 404h3v1h-3zM490 362h1v2h-1zM494 368h1v1h-1zM484 350h1v2h-1zM487 356h1v2h-1zM505 378h1v1h-1zM483 348h1v2h-1zM493 367h1v1h-1zM486 354h1v2h-1zM485 352h1v2h-1zM482 346h1v2h-1zM478 339h1v2h-1zM479 341h1v1h-1zM501 374h1v1h-1zM507 380h1v1h-1zM481 344h1v2h-1zM495 369h1v1h-1zM496 370h1v1h-1zM477 338h1v1h-1zM480 342h1v2h-1zM502 375h1v1h-1zM503 376h1v1h-1zM491 364h1v2h-1zM498 372h1v1h-1zM497 371h1v1h-1zM504 377h1v1h-1zM489 360h1v2h-1zM492 366h1v1h-1zM488 358h1v2h-1zM506 379h1v1h-1z"/><use class="c" href="#o" x="477" y="338"/><use class="c" href="#o" x="481" y="344"/><use class="c" href="#o" x="491" y="365"/><use class="c" href="#o" x="508" y="381"/><use class="c" href="#o" x="642" y="422"/><use class="c" href="#o" x="811" y="431"/></g>
<g fill="#ff0000"><path class="c" d="M629 435h30v1h-30zM761 431h34v1h-34zM602 436h27v1h-27zM727 432h34v1h-34zM659 434h34v1h-34zM795 430h17v1h-17zM522 439h27v1h-27zM576 437h26v1h-26zM693 433h34v1h-34zM508 440h14v1h-14zM549 438h27v1h-27zM504 435h1v1h-1zM501 431h1v1h-1zM505 436h1v1h-1zM502 432h1v1h-1zM503 433h1v2h-1zM500 430h1v1h-1zM507 439h1v1h-1zM506 437h1v2h-1zM478 400h1v2h-1zM489 416h1v1h-1zM499 428h1v2h-1zM481 406h1v1h-1zM482 407h1v1h-1zM488 414h1v2h-1zM480 404h1v2h-1zM477 399h1v1h-1zM491 418h1v1h-1zM483 408h1v2h-1zM484 410h1v1h-1zM494 422h1v1h-1zM479 402h1v2h-1zM493 420h1v2h-1zM486 412h1v1h-1zM492 419h1v1h-1zM485 411h1v1h-1zM496 424h1v2h-1zM495 423h1v1h-1zM487 413h1v1h-1zM498 427h1v1h-1zM497 426h1v1h-1zM490 417h1v1h-1z"/><use class="c" href="#o" x="477" y="399"/><use class="c" href="#o" x="481" y="406"/><use class="c" href="#o" x="491" y="418"/><use class="c" href="#o" x="508" y="440"/><use class="c" href="#o" x="642" y="435"/><use class="c" href="#o" x="811" y="430"/></g>
<g fill="#0080ff"><path class="c" d="M1086 358h8v1h-8zM966 345h10v1h-10zM986 347h11v1h-11zM914 340h11v1h-11zM1153 366h8v1h-8zM1161 367h9v1h-9zM1111 361h8v1h-8zM997 348h10v1h-10zM1017 350h10v1h-10zM925 341h10v1h-10zM1119 362h9v1h-9zM1007 349h10v1h-10zM1170 368h8v1h-8zM1077 357h9v1h-9zM887 337h7v1h-7zM1144 365h9v1h-9zM1102 360h9v1h-9zM1035 352h9v1h-9zM904 339h10v1h-10zM1044 353h8v1h-8zM1069 356h8v1h-8zM1027 351h8v1h-8zM945 343h11v1h-11zM894 338h10v1h-10zM1136 364h8v1h-8zM871 332h2v1h-2zM1052 354h8v1h-8zM976 346h10v1h-10zM1178 369h8v1h-8zM883 336h4v1h-4zM1094 359h8v1h-8zM877 334h3v1h-3zM1128 363h8v1h-8zM956 344h10v1h-10zM1186 370h5v1h-5zM873 333h4v1h-4zM935 342h10v1h-10zM857 464h5v1h-5zM880 335h3v1h-3zM1060 355h9v1h-9zM869 352h1v13h-1zM870 339h1v13h-1zM868 365h1v14h-1zM865 405h1v13h-1zM866 392h1v13h-1zM871 333h1v6h-1zM861 458h1v6h-1zM864 418h1v13h-1zM863 431h1v14h-1zM862 445h1v13h-1zM867 379h1v13h-1z"/><use class="c" href="#o" x="857" y="464"/><use class="c" href="#o" x="861" y="464"/><use class="c" href="#o" x="871" y="332"/><use class="c" href="#o" x="888" y="337"/><use class="c" href="#o" x="1022" y="350"/><use class="c" href="#o" x="1190" y="370"/></g>
<g fill="#ff00ff"><path class="c" d="M1161 414h9v1h-9zM1128 410h8v1h-8zM872 343h2v1h-2zM1119 409h9v1h-9zM1027 398h8v1h-8zM1186 417h5v1h-5zM905 359h3v1h-3zM1044 400h8v1h-8zM1144 412h9v1h-9zM864 341h5v1h-5zM1052 401h8v1h-8zM942 371h3v1h-3zM1006 392h3v1h-3zM1170 415h8v1h-8zM987 386h4v1h-4zM1077 404h9v1h-9zM914 362h3v1h-3zM945 372h3v1h-3zM1178 416h8v1h-8zM978 383h3v1h-3zM1069 403h8v1h-8zM1009 393h3v1h-3zM1094 406h8v1h-8zM920 364h4v1h-4zM954 375h3v1h-3zM984 385h3v1h-3zM1102 407h9v1h-9zM1018 396h3v1h-3zM911 361h3v1h-3zM975 382h3v1h-3zM957 376h3v1h-3zM1111 408h8v1h-8zM1021 397h6v1h-6zM886 352h2v1h-2zM948 373h3v1h-3zM1012 394h3v1h-3zM951 374h3v1h-3zM1015 395h3v1h-3zM917 363h3v1h-3zM890 354h3v1h-3zM991 387h3v1h-3zM1086 405h8v1h-8zM1136 411h8v1h-8zM1153 413h8v1h-8zM893 355h3v1h-3zM896 356h3v1h-3zM930 367h3v1h-3zM960 377h3v1h-3zM994 388h3v1h-3zM888 353h2v1h-2zM1035 399h9v1h-9zM924 365h3v1h-3zM927 366h3v1h-3zM899 357h3v1h-3zM963 378h3v1h-3zM902 358h3v1h-3zM936 369h3v1h-3zM861 340h3v1h-3zM966 379h3v1h-3zM1000 390h3v1h-3zM1060 402h9v1h-9zM880 348h2v1h-2zM933 368h3v1h-3zM997 389h3v1h-3zM869 342h3v1h-3zM969 380h3v1h-3zM972 381h3v1h-3zM939 370h3v1h-3zM1003 391h3v1h-3zM981 384h3v1h-3zM908 360h3v1h-3zM883 350h2v1h-2zM878 347h2v1h-2zM875 345h2v1h-2zM885 351h1v1h-1zM882 349h1v1h-1zM859 337h1v2h-1zM877 346h1v1h-1zM857 335h1v1h-1zM858 336h1v1h-1zM860 339h1v1h-1zM874 344h1v1h-1z"/><use class="c" href="#o" x="857" y="335"/><use class="c" href="#o" x="861" y="340"/><use class="c" href="#o" x="871" y="342"/><use class="c" href="#o" x="888" y="353"/><use class="c" href="#o" x="1022" y="397"/><use class="c" href="#o" x="1190" y="417"/></g>
<g fill="#006400"><path class="c" d="M1145 423h13v1h-13zM1001 408h4v1h-4zM1055 416h13v1h-13zM1081 418h13v1h-13zM894 381h4v1h-4zM1184 426h7v1h-7zM1068 417h13v1h-13zM1094 419h13v1h-13zM918 387h4v1h-4zM938 392h4v1h-4zM898 382h4v1h-4zM1107 420h12v1h-12zM1021 413h8v1h-8zM1005 409h4v1h-4zM1119 421h13v1h-13zM985 404h4v1h-4zM922 388h4v1h-4zM961 398h4v1h-4zM1029 414h13v1h-13zM902 383h4v1h-4zM981 403h4v1h-4zM965 399h4v1h-4zM1132 422h13v1h-13zM1158 424h13v1h-13zM942 393h4v1h-4zM1042 415h13v1h-13zM926 389h4v1h-4zM946 394h4v1h-4zM906 384h4v1h-4zM1171 425h13v1h-13zM1013 411h4v1h-4zM989 405h4v1h-4zM857 339h3v1h-3zM930 390h4v1h-4zM1009 410h4v1h-4zM969 400h4v1h-4zM888 379h2v1h-2zM993 406h4v1h-4zM973 401h4v1h-4zM997 407h4v1h-4zM1017 412h4v1h-4zM977 402h4v1h-4zM950 395h4v1h-4zM914 386h4v1h-4zM954 396h3v1h-3zM957 397h4v1h-4zM934 391h4v1h-4zM860 340h2v1h-2zM910 385h4v1h-4zM890 380h4v1h-4zM867 348h1v2h-1zM868 350h1v1h-1zM885 374h1v2h-1zM866 347h1v1h-1zM881 368h1v2h-1zM870 352h1v2h-1zM874 358h1v2h-1zM869 351h1v1h-1zM887 377h1v2h-1zM872 355h1v2h-1zM876 361h1v2h-1zM871 354h1v1h-1zM875 360h1v1h-1zM878 364h1v2h-1zM879 366h1v1h-1zM873 357h1v1h-1zM862 341h1v2h-1zM863 343h1v1h-1zM877 363h1v1h-1zM880 367h1v1h-1zM883 371h1v2h-1zM884 373h1v1h-1zM865 345h1v2h-1zM864 344h1v1h-1zM882 370h1v1h-1zM886 376h1v1h-1z"/><use class="c" href="#o" x="857" y="339"/><use class="c" href="#o" x="861" y="340"/><use class="c" href="#o" x="871" y="354"/><use class="c" href="#o" x="888" y="379"/><use class="c" href="#o" x="1022" y="413"/><use class="c" href="#o" x="1190" y="426"/></g>
<g fill="#ff0000"><path class="c" d="M979 454h10v1h-10zM1049 454h8v1h-8zM912 447h10v1h-10zM1103 447h7v1h-7zM960 452h10v1h-10zM1065 452h7v1h-7zM903 446h9v1h-9zM1110 446h8v1h-8zM1171 438h8v1h-8zM1018 458h8v1h-8zM970 453h9v1h-9zM1057 453h8v1h-8zM999 456h9v1h-9zM1034 456h8v1h-8zM989 455h10v1h-10zM1042 455h7v1h-7zM932 449h9v1h-9zM1087 449h8v1h-8zM1008 457h10v1h-10zM1026 457h8v1h-8zM922 448h10v1h-10zM1095 448h8v1h-8zM941 450h10v1h-10zM1080 450h7v1h-7zM951 451h9v1h-9zM1072 451h8v1h-8zM888 444h5v1h-5zM1126 444h7v1h-7zM1141 442h8v1h-8zM1164 439h7v1h-7zM1133 443h8v1h-8zM1149 441h7v1h-7zM1179 437h8v1h-8zM893 445h10v1h-10zM1118 445h8v1h-8zM875 433h2v1h-2zM883 440h2v1h-2zM1156 440h8v1h-8zM1187 436h4v1h-4zM859 389h1v8h-1zM881 438h1v1h-1zM886 442h1v1h-1zM882 439h1v1h-1zM869 425h1v2h-1zM887 443h1v1h-1zM885 441h1v1h-1zM880 437h1v1h-1zM861 405h1v6h-1zM858 381h1v8h-1zM868 423h1v2h-1zM871 429h1v1h-1zM857 376h1v5h-1zM860 397h1v8h-1zM867 421h1v2h-1zM878 435h1v1h-1zM870 427h1v2h-1zM879 436h1v1h-1zM866 419h1v2h-1zM863 413h1v2h-1zM877 434h1v1h-1zM873 431h1v1h-1zM862 411h1v2h-1zM872 430h1v1h-1zM865 417h1v2h-1zM864 415h1v2h-1zM874 432h1v1h-1z"/><use class="c" href="#o" x="857" y="376"/><use class="c" href="#o" x="861" y="409"/><use class="c" href="#o" x="871" y="429"/><use class="c" href="#o" x="888" y="444"/><use class="c" href="#o" x="1022" y="458"/><use class="c" href="#o" x="1190" y="436"/></g>
<g fill="#0080ff"><path class="c" d="M114 522h6v1h-6zM184 527h23v1h-23zM251 530h96v1h-96zM162 526h22v1h-22zM229 529h22v1h-22zM347 529h85v1h-85zM140 525h22v1h-22zM207 528h22v1h-22zM120 523h6v1h-6zM126 524h14v1h-14zM111 521h3v1h-3zM98 653h4v1h-4zM111 522h1v6h-1zM109 541h1v13h-1zM105 594h1v13h-1zM110 528h1v13h-1zM108 554h1v14h-1zM104 607h1v13h-1zM103 620h1v14h-1zM102 634h1v13h-1zM101 647h1v6h-1zM107 568h1v13h-1zM106 581h1v13h-1z"/><use class="c" href="#o" x="98" y="653"/><use class="c" href="#o" x="101" y="653"/><use class="c" href="#o" x="111" y="521"/><use class="c" href="#o" x="128" y="524"/><use class="c" href="#o" x="262" y="530"/><use class="c" href="#o" x="431" y="529"/></g>
<g fill="#ff00ff"><path class="c" d="M242 537h14v1h-14zM110 528h25v1h-25zM229 536h13v1h-13zM256 538h16v1h-16zM135 529h14v1h-14zM309 541h19v1h-19zM328 542h19v1h-19zM175 532h14v1h-14zM403 546h19v1h-19zM347 543h19v1h-19zM189 533h13v1h-13zM385 545h18v1h-18zM422 547h10v1h-10zM272 539h19v1h-19zM291 540h18v1h-18zM366 544h19v1h-19zM202 534h14v1h-14zM149 530h13v1h-13zM162 531h13v1h-13zM216 535h13v1h-13zM101 524h2v1h-2zM108 527h2v1h-2zM103 525h2v1h-2zM105 526h3v1h-3zM99 522h1v1h-1zM98 521h1v1h-1zM100 523h1v1h-1z"/><use class="c" href="#o" x="98" y="521"/><use class="c" href="#o" x="101" y="524"/><use class="c" href="#o" x="111" y="528"/><use class="c" href="#o" x="128" y="528"/><use class="c" href="#o" x="262" y="538"/><use class="c" href="#o" x="431" y="547"/></g>
<g fill="#006400"><path class="c" d="M222 544h7v1h-7zM107 529h9v1h-9zM229 545h7v1h-7zM244 547h7v1h-7zM169 537h8v1h-8zM365 558h12v1h-12zM177 538h7v1h-7zM192 540h7v1h-7zM140 533h7v1h-7zM377 559h12v1h-12zM401 561h12v1h-12zM293 552h12v1h-12zM317 554h12v1h-12zM184 539h8v1h-8zM155 535h7v1h-7zM389 560h12v1h-12zM413 562h12v1h-12zM305 553h12v1h-12zM162 536h7v1h-7zM329 555h12v1h-12zM353 557h12v1h-12zM251 548h8v1h-8zM425 563h7v1h-7zM341 556h12v1h-12zM259 549h10v1h-10zM98 530h9v1h-9zM116 530h8v1h-8zM132 532h8v1h-8zM236 546h8v1h-8zM147 534h8v1h-8zM124 531h8v1h-8zM269 550h12v1h-12zM214 543h8v1h-8zM199 541h8v1h-8zM207 542h7v1h-7zM281 551h12v1h-12z"/><use class="c" href="#o" x="98" y="530"/><use class="c" href="#o" x="101" y="530"/><use class="c" href="#o" x="111" y="529"/><use class="c" href="#o" x="128" y="531"/><use class="c" href="#o" x="262" y="549"/><use class="c" href="#o" x="431" y="563"/></g>
<g fill="#ff0000"><path class="c" d="M276 612h9v1h-9zM190 584h3v1h-3zM400 626h9v1h-9zM242 603h3v1h-3zM418 628h9v1h-9zM165 575h3v1h-3zM245 604h2v1h-2zM409 627h9v1h-9zM157 572h3v1h-3zM320 617h9v1h-9zM209 591h3v1h-3zM338 619h9v1h-9zM119 554h2v1h-2zM160 573h3v1h-3zM201 588h3v1h-3zM329 618h9v1h-9zM347 620h9v1h-9zM285 613h9v1h-9zM256 608h2v1h-2zM356 621h9v1h-9zM311 616h9v1h-9zM206 590h3v1h-3zM365 622h9v1h-9zM267 611h9v1h-9zM171 577h3v1h-3zM250 606h3v1h-3zM391 625h9v1h-9zM217 594h3v1h-3zM294 614h9v1h-9zM303 615h8v1h-8zM374 623h9v1h-9zM261 610h6v1h-6zM383 624h8v1h-8zM212 592h3v1h-3zM253 607h3v1h-3zM168 576h3v1h-3zM179 580h3v1h-3zM258 609h3v1h-3zM135 564h3v1h-3zM130 562h3v1h-3zM427 629h5v1h-5zM223 596h3v1h-3zM174 578h2v1h-2zM176 579h3v1h-3zM228 598h3v1h-3zM220 595h3v1h-3zM133 563h2v1h-2zM187 583h3v1h-3zM239 602h3v1h-3zM138 565h3v1h-3zM231 599h3v1h-3zM141 566h3v1h-3zM182 581h3v1h-3zM234 600h3v1h-3zM185 582h2v1h-2zM107 545h2v1h-2zM149 569h3v1h-3zM152 570h2v1h-2zM193 585h3v1h-3zM144 567h2v1h-2zM196 586h2v1h-2zM146 568h3v1h-3zM237 601h2v1h-2zM154 571h3v1h-3zM204 589h2v1h-2zM247 605h3v1h-3zM198 587h3v1h-3zM163 574h2v1h-2zM215 593h2v1h-2zM128 561h2v1h-2zM113 549h2v1h-2zM101 542h2v1h-2zM226 597h2v1h-2zM109 546h2v1h-2zM103 543h2v1h-2zM105 544h2v1h-2zM125 559h2v1h-2zM121 555h1v1h-1zM98 533h1v2h-1zM115 550h1v1h-1zM116 551h1v1h-1zM127 560h1v1h-1zM100 538h1v3h-1zM111 547h1v1h-1zM112 548h1v1h-1zM123 557h1v1h-1zM122 556h1v1h-1zM99 535h1v3h-1zM118 553h1v1h-1zM117 552h1v1h-1zM124 558h1v1h-1zM101 541h1v1h-1z"/><use class="c" href="#o" x="98" y="533"/><use class="c" href="#o" x="101" y="542"/><use class="c" href="#o" x="111" y="547"/><use class="c" href="#o" x="128" y="561"/><use class="c" href="#o" x="262" y="610"/><use class="c" href="#o" x="431" y="629"/></g>
<g fill="#0080ff"><path class="c" d="M542 526h67v1h-67zM685 528h84v1h-84zM506 525h36v1h-36zM769 529h43v1h-43zM609 527h76v1h-76zM477 653h5v1h-5zM498 523h4v1h-4zM494 522h4v1h-4zM502 524h4v1h-4zM491 521h3v1h-3zM491 522h1v6h-1zM483 620h1v14h-1zM490 528h1v13h-1zM484 607h1v13h-1zM482 634h1v13h-1zM489 541h1v13h-1zM487 568h1v13h-1zM488 554h1v14h-1zM481 647h1v6h-1zM486 581h1v13h-1zM485 594h1v13h-1z"/><use class="c" href="#o" x="477" y="653"/><use class="c" href="#o" x="481" y="653"/><use class="c" href="#o" x="491" y="521"/><use class="c" href="#o" x="508" y="525"/><use class="c" href="#o" x="642" y="527"/><use class="c" href="#o" x="811" y="529"/></g>
<g fill="#ff00ff"><path class="c" d="M733 544h12v1h-12zM602 535h27v1h-27zM649 537h12v1h-12zM522 532h27v1h-27zM549 533h27v1h-27zM576 534h26v1h-26zM745 545h12v1h-12zM661 538h12v1h-12zM757 546h12v1h-12zM673 539h12v1h-12zM769 547h12v1h-12zM489 530h11v1h-11zM793 549h12v1h-12zM685 540h12v1h-12zM709 542h12v1h-12zM500 531h22v1h-22zM805 550h7v1h-7zM721 543h12v1h-12zM629 536h20v1h-20zM781 548h12v1h-12zM697 541h12v1h-12zM481 528h3v1h-3zM484 529h5v1h-5zM478 522h1v2h-1zM479 524h1v2h-1zM480 526h1v2h-1zM477 521h1v1h-1z"/><use class="c" href="#o" x="477" y="521"/><use class="c" href="#o" x="481" y="528"/><use class="c" href="#o" x="491" y="530"/><use class="c" href="#o" x="508" y="531"/><use class="c" href="#o" x="642" y="536"/><use class="c" href="#o" x="811" y="550"/></g>
<g fill="#006400"><path class="c" d="M789 569h9v1h-9zM549 535h5v1h-5zM485 529h2v1h-2zM517 529h5v1h-5zM634 551h6v1h-6zM602 545h6v1h-6zM581 541h5v1h-5zM754 565h9v1h-9zM554 536h5v1h-5zM533 532h5v1h-5zM656 554h9v1h-9zM618 548h6v1h-6zM763 566h8v1h-8zM647 553h9v1h-9zM489 527h2v1h-2zM500 527h11v1h-11zM780 568h9v1h-9zM597 544h5v1h-5zM565 538h5v1h-5zM674 556h9v1h-9zM691 558h9v1h-9zM629 550h5v1h-5zM683 557h8v1h-8zM487 528h2v1h-2zM511 528h6v1h-6zM798 570h9v1h-9zM700 559h9v1h-9zM709 560h9v1h-9zM538 533h5v1h-5zM736 563h9v1h-9zM570 539h6v1h-6zM727 562h9v1h-9zM745 564h9v1h-9zM483 530h2v1h-2zM522 530h5v1h-5zM807 571h5v1h-5zM586 542h6v1h-6zM771 567h9v1h-9zM640 552h7v1h-7zM481 531h2v1h-2zM527 531h6v1h-6zM491 526h9v1h-9zM718 561h9v1h-9zM559 537h6v1h-6zM592 543h5v1h-5zM624 549h5v1h-5zM576 540h5v1h-5zM543 534h6v1h-6zM613 547h5v1h-5zM665 555h9v1h-9zM608 546h5v1h-5zM480 529h1v2h-1zM478 526h1v2h-1zM479 528h1v1h-1zM477 525h1v1h-1z"/><use class="c" href="#o" x="477" y="525"/><use class="c" href="#o" x="481" y="531"/><use class="c" href="#o" x="491" y="526"/><use class="c" href="#o" x="508" y="527"/><use class="c" href="#o" x="642" y="552"/><use class="c" href="#o" x="811" y="571"/></g>
<g fill="#ff0000"><path class="c" d="M533 577h3v1h-3zM615 602h3v1h-3zM751 633h5v1h-5zM732 629h5v1h-5zM703 623h5v1h-5zM598 597h4v1h-4zM785 640h5v1h-5zM766 636h4v1h-4zM508 569h2v1h-2zM589 594h3v1h-3zM562 586h4v1h-4zM693 621h5v1h-5zM664 615h5v1h-5zM645 611h5v1h-5zM628 606h3v1h-3zM698 622h5v1h-5zM679 618h5v1h-5zM809 645h3v1h-3zM536 578h4v1h-4zM540 579h3v1h-3zM621 604h4v1h-4zM741 631h5v1h-5zM722 627h5v1h-5zM566 587h3v1h-3zM804 644h5v1h-5zM775 638h5v1h-5zM513 571h4v1h-4zM756 634h5v1h-5zM549 582h4v1h-4zM569 588h3v1h-3zM684 619h4v1h-4zM625 605h3v1h-3zM572 589h4v1h-4zM608 600h3v1h-3zM688 620h5v1h-5zM543 580h3v1h-3zM517 572h3v1h-3zM631 607h3v1h-3zM546 581h3v1h-3zM582 592h3v1h-3zM602 598h3v1h-3zM790 641h5v1h-5zM605 599h3v1h-3zM669 616h5v1h-5zM576 590h3v1h-3zM579 591h3v1h-3zM650 612h5v1h-5zM634 608h4v1h-4zM523 574h3v1h-3zM655 613h4v1h-4zM638 609h3v1h-3zM799 643h5v1h-5zM780 639h5v1h-5zM611 601h4v1h-4zM585 593h4v1h-4zM727 628h5v1h-5zM708 624h5v1h-5zM520 573h3v1h-3zM659 614h5v1h-5zM556 584h3v1h-3zM761 635h5v1h-5zM713 625h4v1h-4zM559 585h3v1h-3zM641 610h4v1h-4zM795 642h4v1h-4zM746 632h5v1h-5zM530 576h3v1h-3zM674 617h5v1h-5zM553 583h3v1h-3zM618 603h3v1h-3zM592 595h3v1h-3zM717 626h5v1h-5zM526 575h4v1h-4zM770 637h5v1h-5zM595 596h3v1h-3zM737 630h4v1h-4zM510 570h3v1h-3zM478 532h1v1h-1zM479 533h1v2h-1zM493 553h1v1h-1zM482 537h1v2h-1zM481 536h1v1h-1zM502 563h1v1h-1zM503 564h1v1h-1zM480 535h1v1h-1zM495 555h1v1h-1zM484 540h1v2h-1zM488 546h1v2h-1zM483 539h1v1h-1zM487 545h1v1h-1zM486 543h1v2h-1zM490 549h1v2h-1zM504 565h1v1h-1zM505 566h1v1h-1zM497 557h1v1h-1zM485 542h1v1h-1zM496 556h1v1h-1zM489 548h1v1h-1zM499 559h1v2h-1zM500 561h1v1h-1zM506 567h1v1h-1zM507 568h1v1h-1zM492 552h1v1h-1zM477 531h1v1h-1zM491 551h1v1h-1zM498 558h1v1h-1zM494 554h1v1h-1zM501 562h1v1h-1z"/><use class="c" href="#o" x="477" y="531"/><use class="c" href="#o" x="481" y="536"/><use class="c" href="#o" x="491" y="551"/><use class="c" href="#o" x="508" y="569"/><use class="c" href="#o" x="642" y="610"/><use class="c" href="#o" x="811" y="645"/></g>
<g fill="#0080ff"><path class="c" d="M882 524h4v1h-4zM956 526h151v1h-151zM886 525h70v1h-70zM1107 525h84v1h-84zM871 521h3v1h-3zM874 522h4v1h-4zM857 653h5v1h-5zM878 523h4v1h-4zM871 522h1v6h-1zM870 528h1v13h-1zM864 607h1v13h-1zM862 634h1v13h-1zM869 541h1v13h-1zM863 620h1v14h-1zM868 554h1v14h-1zM867 568h1v13h-1zM866 581h1v13h-1zM861 647h1v6h-1zM865 594h1v13h-1z"/><use class="c" href="#o" x="857" y="653"/><use class="c" href="#o" x="861" y="653"/><use class="c" href="#o" x="871" y="521"/><use class="c" href="#o" x="888" y="525"/><use class="c" href="#o" x="1022" y="526"/><use class="c" href="#o" x="1190" y="525"/></g>
<g fill="#ff00ff"><path class="c" d="M1113 544h12v1h-12zM1137 546h12v1h-12zM1161 548h12v1h-12zM1029 537h12v1h-12zM881 527h3v1h-3zM907 527h12v1h-12zM861 530h6v1h-6zM873 530h3v1h-3zM943 530h13v1h-13zM968 532h12v1h-12zM1053 539h12v1h-12zM1149 547h12v1h-12zM1173 549h12v1h-12zM1041 538h12v1h-12zM1065 540h12v1h-12zM867 531h6v1h-6zM956 531h12v1h-12zM1089 542h12v1h-12zM980 533h12v1h-12zM1004 535h12v1h-12zM884 526h3v1h-3zM895 526h12v1h-12zM879 528h2v1h-2zM919 528h12v1h-12zM1101 543h12v1h-12zM992 534h12v1h-12zM1016 536h13v1h-13zM876 529h3v1h-3zM931 529h12v1h-12zM1077 541h12v1h-12zM1125 545h12v1h-12zM887 525h8v1h-8zM1185 550h6v1h-6zM860 527h1v2h-1zM859 525h1v2h-1zM861 529h1v1h-1zM858 523h1v2h-1zM857 521h1v2h-1z"/><use class="c" href="#o" x="857" y="521"/><use class="c" href="#o" x="861" y="530"/><use class="c" href="#o" x="871" y="531"/><use class="c" href="#o" x="888" y="525"/><use class="c" href="#o" x="1022" y="536"/><use class="c" href="#o" x="1190" y="550"/></g>
<g fill="#006400"><path class="c" d="M975 544h5v1h-5zM1046 556h9v1h-9zM1177 570h9v1h-9zM1055 557h10v1h-10zM1010 551h5v1h-5zM936 536h5v1h-5zM865 530h2v1h-2zM906 530h5v1h-5zM880 526h11v1h-11zM1065 558h9v1h-9zM1083 560h10v1h-10zM867 529h2v1h-2zM901 529h5v1h-5zM1027 554h10v1h-10zM871 527h9v1h-9zM891 527h5v1h-5zM1093 561h9v1h-9zM1111 563h10v1h-10zM1167 569h10v1h-10zM1102 562h9v1h-9zM1121 564h9v1h-9zM863 531h2v1h-2zM911 531h5v1h-5zM990 547h5v1h-5zM1130 565h9v1h-9zM1149 567h9v1h-9zM1139 566h10v1h-10zM1158 568h9v1h-9zM941 537h5v1h-5zM1037 555h9v1h-9zM926 534h5v1h-5zM869 528h2v1h-2zM896 528h5v1h-5zM1074 559h9v1h-9zM1020 553h7v1h-7zM1000 549h5v1h-5zM980 545h5v1h-5zM960 541h5v1h-5zM931 535h5v1h-5zM1015 552h5v1h-5zM995 548h5v1h-5zM965 542h5v1h-5zM946 538h5v1h-5zM861 532h2v1h-2zM916 532h5v1h-5zM970 543h5v1h-5zM951 539h5v1h-5zM921 533h5v1h-5zM1005 550h5v1h-5zM985 546h5v1h-5zM1186 571h5v1h-5zM956 540h4v1h-4zM859 530h1v1h-1zM858 529h1v1h-1zM860 531h1v1h-1zM857 528h1v1h-1z"/><use class="c" href="#o" x="857" y="528"/><use class="c" href="#o" x="861" y="532"/><use class="c" href="#o" x="871" y="527"/><use class="c" href="#o" x="888" y="526"/><use class="c" href="#o" x="1022" y="553"/><use class="c" href="#o" x="1190" y="571"/></g>
<g fill="#ff0000"><path class="c" d="M1158 643h9v1h-9zM1007 621h2v1h-2zM1186 646h5v1h-5zM1046 631h9v1h-9zM1065 633h9v1h-9zM1019 627h2v1h-2zM1011 623h2v1h-2zM978 607h2v1h-2zM1074 634h9v1h-9zM1093 636h9v1h-9zM1003 619h2v1h-2zM1083 635h10v1h-10zM1102 637h9v1h-9zM1015 625h2v1h-2zM1121 639h9v1h-9zM974 605h2v1h-2zM966 601h2v1h-2zM883 559h2v1h-2zM988 612h3v1h-3zM1177 645h9v1h-9zM1111 638h10v1h-10zM1130 640h9v1h-9zM999 617h2v1h-2zM991 613h2v1h-2zM1021 628h6v1h-6zM1139 641h10v1h-10zM970 603h2v1h-2zM962 599h2v1h-2zM993 614h2v1h-2zM953 595h3v1h-3zM984 610h2v1h-2zM1149 642h9v1h-9zM1167 644h10v1h-10zM947 592h2v1h-2zM995 615h2v1h-2zM1037 630h9v1h-9zM1055 632h10v1h-10zM958 597h2v1h-2zM980 608h2v1h-2zM972 604h2v1h-2zM951 594h2v1h-2zM943 590h2v1h-2zM935 586h2v1h-2zM976 606h2v1h-2zM968 602h2v1h-2zM927 582h2v1h-2zM939 588h2v1h-2zM920 579h3v1h-3zM931 584h2v1h-2zM923 580h2v1h-2zM925 581h2v1h-2zM916 577h2v1h-2zM908 573h2v1h-2zM1027 629h10v1h-10zM902 570h2v1h-2zM912 575h2v1h-2zM904 571h2v1h-2zM896 567h2v1h-2zM906 572h2v1h-2zM898 568h2v1h-2zM890 564h2v1h-2zM900 569h2v1h-2zM894 566h2v1h-2zM875 552h2v1h-2zM1013 624h2v1h-2zM1017 626h2v1h-2zM1009 622h2v1h-2zM1001 618h2v1h-2zM1005 620h2v1h-2zM997 616h2v1h-2zM982 609h2v1h-2zM949 593h2v1h-2zM986 611h2v1h-2zM945 591h2v1h-2zM937 587h2v1h-2zM941 589h2v1h-2zM933 585h2v1h-2zM964 600h2v1h-2zM956 596h2v1h-2zM918 578h2v1h-2zM929 583h2v1h-2zM960 598h2v1h-2zM914 576h2v1h-2zM910 574h2v1h-2zM888 563h2v1h-2zM892 565h2v1h-2zM862 531h1v2h-1zM879 555h1v1h-1zM880 556h1v1h-1zM857 526h1v1h-1zM858 527h1v1h-1zM886 561h1v1h-1zM885 560h1v1h-1zM882 558h1v1h-1zM881 557h1v1h-1zM870 546h1v2h-1zM859 528h1v1h-1zM869 544h1v2h-1zM887 562h1v1h-1zM865 537h1v2h-1zM868 542h1v2h-1zM871 548h1v1h-1zM864 535h1v2h-1zM872 549h1v1h-1zM861 530h1v1h-1zM867 540h1v2h-1zM860 529h1v1h-1zM878 554h1v1h-1zM863 533h1v2h-1zM866 539h1v1h-1zM874 551h1v1h-1zM877 553h1v1h-1zM873 550h1v1h-1z"/><use class="c" href="#o" x="857" y="526"/><use class="c" href="#o" x="861" y="530"/><use class="c" href="#o" x="871" y="548"/><use class="c" href="#o" x="888" y="563"/><use class="c" href="#o" x="1022" y="628"/><use class="c" href="#o" x="1190" y="646"/></g>
<path class="k" d="M74.5 96.5H1214.5M74.5 115.5H1214.5M74.5 134.5H1214.5M74.5 285.5H1214.5M74.5 304.5H1214.5M74.5 323.5H1214.5M74.5 473.5H1214.5M74.5 492.5H1214.5M74.5 511.5H1214.5M74.5 662.5H1214.5M74.5 96.0V663.0M454.5 96.0V663.0M834.5 96.0V663.0M1214.5 96.0V663.0M67 142.5H74.5M1214.5 142.5H1222M67 165.5H74.5M1214.5 165.5H1222M67 189.5H74.5M1214.5 189.5H1222M67 213.5H74.5M1214.5 213.5H1222M67 237.5H74.5M1214.5 237.5H1222M67 261.5H74.5M1214.5 261.5H1222M67 284.5H74.5M1214.5 284.5H1222M67 330.5H74.5M1214.5 330.5H1222M67 354.5H74.5M1214.5 354.5H1222M67 378.5H74.5M1214.5 378.5H1222M67 402.5H74.5M1214.5 402.5H1222M67 425.5H74.5M1214.5 425.5H1222M67 449.5H74.5M1214.5 449.5H1222M67 473.5H74.5M1214.5 473.5H1222M67 519.5H74.5M1214.5 519.5H1222M67 543.5H74.5M1214.5 543.5H1222M67 566.5H74.5M1214.5 566.5H1222M67 590.5H74.5M1214.5 590.5H1222M67 614.5H74.5M1214.5 614.5H1222M67 638.5H74.5M1214.5 638.5H1222M67 662.5H74.5M1214.5 662.5H1222M94.5 88V96.5M94.5 662.5V670M161.5 88V96.5M161.5 662.5V670M229.5 88V96.5M229.5 662.5V670M296.5 88V96.5M296.5 662.5V670M363.5 88V96.5M363.5 662.5V670M431.5 88V96.5M431.5 662.5V670M474.5 88V96.5M474.5 662.5V670M541.5 88V96.5M541.5 662.5V670M609.5 88V96.5M609.5 662.5V670M676.5 88V96.5M676.5 662.5V670M743.5 88V96.5M743.5 662.5V670M811.5 88V96.5M811.5 662.5V670M854.5 88V96.5M854.5 662.5V670M921.5 88V96.5M921.5 662.5V670M989.5 88V96.5M989.5 662.5V670M1056.5 88V96.5M1056.5 662.5V670M1123.5 88V96.5M1123.5 662.5V670M1190.5 88V96.5M1190.5 662.5V670"/>
<text class="s" x="264.5" y="113.3" text-anchor="middle" xml:space="preserve">interaction depth: 10</text>
<text class="s" x="264.5" y="132.3" text-anchor="middle" xml:space="preserve">n minobsinnode:  3</text>
<text class="s" x="644.5" y="113.3" text-anchor="middle" xml:space="preserve">interaction depth: 10</text>
<text class="s" x="644.5" y="132.3" text-anchor="middle" xml:space="preserve">n minobsinnode:  5</text>
<text class="s" x="1024.5" y="113.3" text-anchor="middle" xml:space="preserve">interaction depth: 10</text>
<text class="s" x="1024.5" y="132.3" text-anchor="middle" xml:space="preserve">n minobsinnode: 10</text>
<text class="s" x="264.5" y="302.3" text-anchor="middle" xml:space="preserve">interaction depth:  5</text>
<text class="s" x="264.5" y="321.3" text-anchor="middle" xml:space="preserve">n minobsinnode:  3</text>
<text class="s" x="644.5" y="302.3" text-anchor="middle" xml:space="preserve">interaction depth:  5</text>
<text class="s" x="644.5" y="321.3" text-anchor="middle" xml:space="preserve">n minobsinnode:  5</text>
<text class="s" x="1024.5" y="302.3" text-anchor="middle" xml:space="preserve">interaction depth:  5</text>
<text class="s" x="1024.5" y="321.3" text-anchor="middle" xml:space="preserve">n minobsinnode: 10</text>
<text class="s" x="264.5" y="490.3" text-anchor="middle" xml:space="preserve">interaction depth:  1</text>
<text class="s" x="264.5" y="509.3" text-anchor="middle" xml:space="preserve">n minobsinnode:  3</text>
<text class="s" x="644.5" y="490.3" text-anchor="middle" xml:space="preserve">interaction depth:  1</text>
<text class="s" x="644.5" y="509.3" text-anchor="middle" xml:space="preserve">n minobsinnode:  5</text>
<text class="s" x="1024.5" y="490.3" text-anchor="middle" xml:space="preserve">interaction depth:  1</text>
<text class="s" x="1024.5" y="509.3" text-anchor="middle" xml:space="preserve">n minobsinnode: 10</text>
<text class="ax" transform="translate(58.7 148.0) scale(.935 1)" text-anchor="end">0.80</text>
<text class="ax" transform="translate(58.7 171.0) scale(.935 1)" text-anchor="end">0.78</text>
<text class="ax" transform="translate(58.7 195.0) scale(.935 1)" text-anchor="end">0.76</text>
<text class="ax" transform="translate(58.7 219.0) scale(.935 1)" text-anchor="end">0.74</text>
<text class="ax" transform="translate(58.7 243.0) scale(.935 1)" text-anchor="end">0.72</text>
<text class="ax" transform="translate(58.7 267.0) scale(.935 1)" text-anchor="end">0.70</text>
<text class="ax" transform="translate(58.7 525.0) scale(.935 1)" text-anchor="end">0.80</text>
<text class="ax" transform="translate(58.7 549.0) scale(.935 1)" text-anchor="end">0.78</text>
<text class="ax" transform="translate(58.7 572.0) scale(.935 1)" text-anchor="end">0.76</text>
<text class="ax" transform="translate(58.7 596.0) scale(.935 1)" text-anchor="end">0.74</text>
<text class="ax" transform="translate(58.7 620.0) scale(.935 1)" text-anchor="end">0.72</text>
<text class="ax" transform="translate(58.7 644.0) scale(.935 1)" text-anchor="end">0.70</text>
<text class="ax" transform="translate(1229.4 337.0) scale(.935 1)">0.80</text>
<text class="ax" transform="translate(1229.4 361.0) scale(.935 1)">0.78</text>
<text class="ax" transform="translate(1229.4 385.0) scale(.935 1)">0.76</text>
<text class="ax" transform="translate(1229.4 409.0) scale(.935 1)">0.74</text>
<text class="ax" transform="translate(1229.4 432.0) scale(.935 1)">0.72</text>
<text class="ax" transform="translate(1229.4 456.0) scale(.935 1)">0.70</text>
<text class="ax" transform="translate(93.2 688.9) scale(.91 1)" text-anchor="middle">0</text>
<text class="ax" transform="translate(160.2 688.9) scale(.91 1)" text-anchor="middle">200</text>
<text class="ax" transform="translate(228.2 688.9) scale(.91 1)" text-anchor="middle">400</text>
<text class="ax" transform="translate(295.2 688.9) scale(.91 1)" text-anchor="middle">600</text>
<text class="ax" transform="translate(362.2 688.9) scale(.91 1)" text-anchor="middle">800</text>
<text class="ax" transform="translate(430.2 688.9) scale(.91 1)" text-anchor="middle">1000</text>
<text class="ax" transform="translate(853.2 688.9) scale(.91 1)" text-anchor="middle">0</text>
<text class="ax" transform="translate(920.2 688.9) scale(.91 1)" text-anchor="middle">200</text>
<text class="ax" transform="translate(988.2 688.9) scale(.91 1)" text-anchor="middle">400</text>
<text class="ax" transform="translate(1055.2 688.9) scale(.91 1)" text-anchor="middle">600</text>
<text class="ax" transform="translate(1122.2 688.9) scale(.91 1)" text-anchor="middle">800</text>
<text class="ax" transform="translate(1189.2 688.9) scale(.91 1)" text-anchor="middle">1000</text>
<text class="ax" transform="translate(473.2 81.9) scale(.91 1)" text-anchor="middle">0</text>
<text class="ax" transform="translate(540.2 81.9) scale(.91 1)" text-anchor="middle">200</text>
<text class="ax" transform="translate(608.2 81.9) scale(.91 1)" text-anchor="middle">400</text>
<text class="ax" transform="translate(675.2 81.9) scale(.91 1)" text-anchor="middle">600</text>
<text class="ax" transform="translate(742.2 81.9) scale(.91 1)" text-anchor="middle">800</text>
<text class="ax" transform="translate(810.2 81.9) scale(.91 1)" text-anchor="middle">1000</text>
<text class="s" x="643.8" y="717" text-anchor="middle"># Boosting Iterations</text>
<text class="t" transform="translate(19.6 398.4) rotate(-90)" text-anchor="middle" style="letter-spacing:0.055px">Accuracy (Repeated Cross-Validation)</text>
</svg>
</body></html>
